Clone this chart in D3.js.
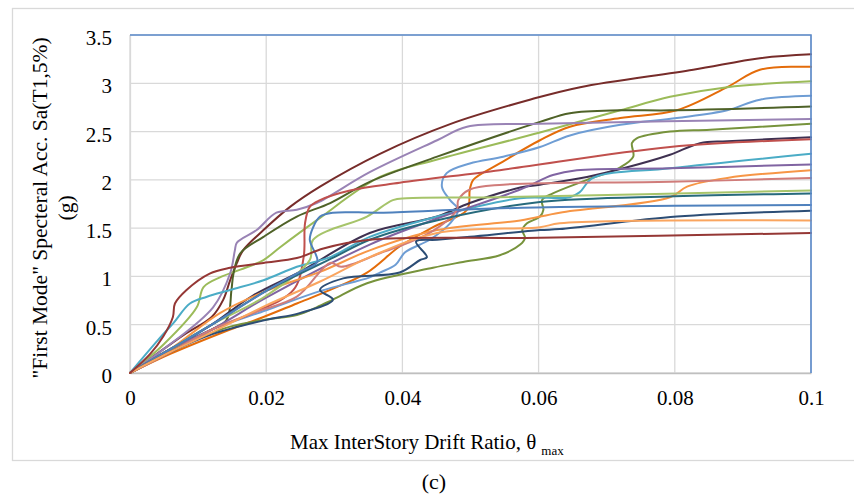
<!DOCTYPE html>
<html>
<head>
<meta charset="utf-8">
<script src="https://cdn.jsdelivr.net/npm/d3@7/dist/d3.min.js"></script>
<style>
  html, body { margin: 0; padding: 0; background: #ffffff; }
  svg { display: block; }
  text { font-family: "Liberation Serif", "Times New Roman", serif; fill: #000; }
</style>
</head>
<body>
<svg id="chart" width="854" height="497"></svg>
<script>
// ---------------- DATA ----------------
const xTickValues = [0, 0.02, 0.04, 0.06, 0.08, 0.1];
const xTickLabels = ["0", "0.02", "0.04", "0.06", "0.08", "0.1"];
const yTickValues = [0, 0.5, 1, 1.5, 2, 2.5, 3, 3.5];
const yTickLabels = ["0", "0.5", "1", "1.5", "2", "2.5", "3", "3.5"];

const seriesNames = ["GM1","GM2","GM3","GM4","GM5","GM6","GM7","GM8","GM9","GM10",
                     "GM11","GM12","GM13","GM14","GM15","GM16","GM17","GM18","GM19"];
const seriesColors = ["#772C2A","#E46C0A","#9BBB59","#6E9DD4","#4F6228","#9983B5","#77933C",
                      "#3F3151","#C0504D","#4BACC6","#8064A2","#F79646","#D07C7A","#A6C46A",
                      "#276A7C","#4F81BD","#2C4D75","#FAA55F","#953735"];

// max interstory drift ratio of each IDA curve
const driftValues = [
  [0, 0.004, 0.008, 0.012, 0.0137, 0.0147, 0.0157, 0.0166, 0.0196, 0.0235, 0.0279, 0.0367, 0.0471, 0.0587, 0.0661, 0.0827, 0.0925, 0.1],
  [0, 0.006, 0.0147, 0.0196, 0.0245, 0.0294, 0.0348, 0.0396, 0.0445, 0.0495, 0.0499, 0.0504, 0.0543, 0.0602, 0.0646, 0.072, 0.0803, 0.0877, 0.0925, 0.1],
  [0, 0.005, 0.0098, 0.0108, 0.0132, 0.0162, 0.0196, 0.022, 0.0274, 0.0367, 0.0451, 0.0602, 0.072, 0.0793, 0.0877, 0.1],
  [0, 0.006, 0.012, 0.02, 0.028, 0.0352, 0.0367, 0.039, 0.0404, 0.044, 0.047, 0.0482, 0.047, 0.0458, 0.0465, 0.0499, 0.0548, 0.0602, 0.0646, 0.072, 0.0803, 0.0877, 0.0925, 0.1],
  [0, 0.006, 0.012, 0.0142, 0.0149, 0.0152, 0.0162, 0.0196, 0.0245, 0.0294, 0.0352, 0.0451, 0.0602, 0.0646, 0.072, 0.0793, 0.1],
  [0, 0.005, 0.0122, 0.0147, 0.0154, 0.0157, 0.0186, 0.0215, 0.0245, 0.0274, 0.0352, 0.0451, 0.0495, 0.0602, 0.1],
  [0, 0.008, 0.0147, 0.0196, 0.0245, 0.0274, 0.0298, 0.0348, 0.0445, 0.0489, 0.0543, 0.0573, 0.058, 0.0576, 0.0583, 0.0602, 0.0607, 0.0605, 0.0621, 0.0671, 0.072, 0.0739, 0.0737, 0.0744, 0.0793, 0.0852, 0.1],
  [0, 0.006, 0.012, 0.018, 0.025, 0.0352, 0.0451, 0.0499, 0.0573, 0.0602, 0.0671, 0.073, 0.0793, 0.0837, 0.0877, 0.1],
  [0, 0.006, 0.012, 0.018, 0.024, 0.0255, 0.0257, 0.0264, 0.0279, 0.0323, 0.0396, 0.0543, 0.0793, 0.1],
  [0, 0.0041, 0.0064, 0.0088, 0.0113, 0.0147, 0.0196, 0.0245, 0.0294, 0.0352, 0.0451, 0.0573, 0.0646, 0.066, 0.068, 0.0793, 0.1],
  [0, 0.006, 0.012, 0.02, 0.0352, 0.0451, 0.0573, 0.0621, 0.0656, 0.0793, 0.1],
  [0, 0.006, 0.0132, 0.02, 0.028, 0.0352, 0.0451, 0.0573, 0.0631, 0.0793, 0.0818, 0.0877, 0.1],
  [0, 0.006, 0.012, 0.018, 0.0245, 0.0294, 0.031, 0.0367, 0.044, 0.048, 0.0482, 0.0499, 0.0548, 0.0793, 0.1],
  [0, 0.006, 0.012, 0.02, 0.0264, 0.0269, 0.0348, 0.0386, 0.0406, 0.0543, 0.1],
  [0, 0.006, 0.012, 0.02, 0.03, 0.0352, 0.045, 0.0602, 0.08, 0.1],
  [0, 0.006, 0.012, 0.02, 0.025, 0.0275, 0.0264, 0.0269, 0.0279, 0.0298, 0.0367, 0.048, 0.0631, 0.1],
  [0, 0.006, 0.012, 0.02, 0.0249, 0.0298, 0.0279, 0.0313, 0.0396, 0.0426, 0.0436, 0.042, 0.0451, 0.0499, 0.0602, 0.0631, 0.0803, 0.1],
  [0, 0.006, 0.012, 0.02, 0.028, 0.0352, 0.0451, 0.0602, 0.0631, 0.1],
  [0, 0.003, 0.0049, 0.0063, 0.0066, 0.0083, 0.0117, 0.0147, 0.0196, 0.0245, 0.0284, 0.0352, 0.0602, 0.1]
];

// "first mode" spectral acceleration Sa(T1,5%) in g of each IDA curve
const saValues = [
  [0, 0.2, 0.4, 0.58, 0.76, 0.96, 1.14, 1.27, 1.48, 1.72, 1.93, 2.27, 2.58, 2.83, 2.96, 3.14, 3.26, 3.30],
  [0, 0.2, 0.45, 0.58, 0.72, 0.86, 1.04, 1.31, 1.51, 1.69, 1.90, 2.0, 2.17, 2.41, 2.55, 2.64, 2.72, 2.96, 3.14, 3.17],
  [0, 0.3, 0.68, 0.89, 0.99, 1.07, 1.17, 1.30, 1.58, 2.03, 2.21, 2.49, 2.72, 2.86, 2.96, 3.02],
  [0, 0.25, 0.45, 0.65, 0.85, 0.99, 1.04, 1.12, 1.25, 1.38, 1.55, 1.69, 1.79, 1.93, 2.07, 2.17, 2.24, 2.34, 2.46, 2.57, 2.64, 2.72, 2.83, 2.87],
  [0, 0.25, 0.45, 0.55, 0.86, 1.03, 1.24, 1.41, 1.62, 1.76, 1.98, 2.24, 2.6, 2.69, 2.72, 2.72, 2.76],
  [0, 0.25, 0.68, 1.03, 1.27, 1.35, 1.48, 1.66, 1.69, 1.76, 2.08, 2.41, 2.55, 2.58, 2.63],
  [0, 0.3, 0.48, 0.55, 0.60, 0.68, 0.76, 0.93, 1.09, 1.15, 1.22, 1.33, 1.40, 1.48, 1.55, 1.62, 1.69, 1.79, 1.86, 2.0, 2.13, 2.24, 2.38, 2.43, 2.50, 2.52, 2.58],
  [0, 0.25, 0.5, 0.8, 1.05, 1.45, 1.62, 1.76, 1.92, 1.95, 2.03, 2.13, 2.26, 2.38, 2.40, 2.44],
  [0, 0.22, 0.45, 0.62, 0.86, 1.20, 1.55, 1.72, 1.79, 1.89, 1.97, 2.10, 2.34, 2.42],
  [0, 0.34, 0.52, 0.72, 0.79, 0.86, 0.96, 1.10, 1.20, 1.41, 1.62, 1.81, 1.82, 1.87, 2.02, 2.12, 2.27],
  [0, 0.25, 0.45, 0.78, 1.33, 1.6, 1.9, 2.05, 2.10, 2.12, 2.16],
  [0, 0.25, 0.62, 0.85, 1.05, 1.27, 1.48, 1.58, 1.66, 1.82, 1.93, 2.02, 2.10],
  [0, 0.22, 0.45, 0.62, 0.79, 1.14, 1.1, 1.24, 1.45, 1.69, 1.79, 1.90, 1.95, 1.98, 2.02],
  [0, 0.25, 0.5, 0.8, 1.17, 1.38, 1.62, 1.79, 1.81, 1.82, 1.89],
  [0, 0.25, 0.5, 0.85, 1.2, 1.38, 1.58, 1.77, 1.83, 1.86],
  [0, 0.25, 0.5, 0.85, 1.05, 1.15, 1.38, 1.51, 1.62, 1.66, 1.66, 1.69, 1.72, 1.74],
  [0, 0.22, 0.4, 0.55, 0.62, 0.76, 0.86, 0.98, 1.04, 1.17, 1.20, 1.36, 1.38, 1.41, 1.48, 1.49, 1.62, 1.68],
  [0, 0.22, 0.42, 0.7, 0.95, 1.20, 1.45, 1.51, 1.55, 1.58],
  [0, 0.2, 0.38, 0.58, 0.72, 0.86, 1.03, 1.09, 1.14, 1.19, 1.29, 1.38, 1.40, 1.45]
];

// blue frame series (top and right edge of plot)
const frameDrift = [0, 0.1, 0.1];
const frameSa = [3.5, 3.5, 0];

// ---------------- CHART ----------------
const svg = d3.select("#chart");
const W = 854, H = 497;
const plot = { left: 130, right: 811, top: 35, bottom: 373 };

svg.append("rect").attr("x", 0).attr("y", 0).attr("width", W).attr("height", H).attr("fill", "#fff");
// chart area border
svg.append("rect").attr("x", 12.5).attr("y", 8.5).attr("width", 850).attr("height", 452)
  .attr("fill", "none").attr("stroke", "#d9d9d9").attr("stroke-width", 1.3);

const x = d3.scaleLinear().domain([0, 0.1]).range([plot.left, plot.right]);
const y = d3.scaleLinear().domain([0, 3.5]).range([plot.bottom, plot.top]);

// gridlines
const grid = svg.append("g");
grid.selectAll("line.h").data(yTickValues).enter().append("line")
  .attr("x1", plot.left).attr("x2", plot.right)
  .attr("y1", d => y(d)).attr("y2", d => y(d))
  .attr("stroke", "#d9d9d9").attr("stroke-width", 1.3);
grid.selectAll("line.v").data(xTickValues).enter().append("line")
  .attr("y1", plot.top).attr("y2", plot.bottom)
  .attr("x1", d => x(d)).attr("x2", d => x(d))
  .attr("stroke", "#d9d9d9").attr("stroke-width", 1.3);

// axes
const xAxis = d3.axisBottom(x).tickValues(xTickValues)
  .tickFormat((d, i) => xTickLabels[i]).tickSize(0).tickPadding(17);
const gx = svg.append("g").attr("transform", `translate(0,${plot.bottom})`).call(xAxis);
gx.select(".domain").attr("stroke", "#bfbfbf").attr("stroke-width", 1.5);
gx.selectAll("text").style("font-family", "'Liberation Serif', serif").style("font-size", "21px").attr("fill", "#000");

const yAxis = d3.axisLeft(y).tickValues(yTickValues)
  .tickFormat((d, i) => yTickLabels[i]).tickSize(0).tickPadding(18);
const gy = svg.append("g").attr("transform", `translate(${plot.left},0)`).call(yAxis);
gy.select(".domain").attr("stroke", "#d9d9d9").attr("stroke-width", 1.3);
gy.selectAll("text").style("font-family", "'Liberation Serif', serif").style("font-size", "21px")
  .attr("dy", "0.45em").attr("fill", "#000");

// curves
const line = d3.line()
  .x(d => x(d[0])).y(d => y(d[1]))
  .curve(d3.curveCatmullRom.alpha(0.5));

const curves = svg.append("g");
seriesNames.forEach((name, i) => {
  const pts = driftValues[i].map((dv, j) => [dv, saValues[i][j]]);
  curves.append("path").datum(pts)
    .attr("d", line)
    .attr("fill", "none")
    .attr("stroke", seriesColors[i])
    .attr("stroke-width", 2)
    .attr("stroke-linejoin", "round")
    .attr("stroke-linecap", "round");
});

// blue frame series
svg.append("path").datum(frameDrift.map((d, i) => [d, frameSa[i]]))
  .attr("d", d3.line().x(d => x(d[0])).y(d => y(d[1])))
  .attr("fill", "none").attr("stroke", "#5B8ACB").attr("stroke-width", 1.6);

// y title
const yTitle = svg.append("g").attr("transform", "translate(0,208) rotate(-90)");
yTitle.append("text").attr("x", 0).attr("y", 47).attr("text-anchor", "middle")
  .style("font-size", "21.5px").text('"First Mode" Specteral Acc. Sa(T1,5%)');
yTitle.append("text").attr("x", 0).attr("y", 73).attr("text-anchor", "middle")
  .style("font-size", "21.5px").text("(g)");

// x title
const xt = svg.append("text").attr("x", 290).attr("y", 449).style("font-size", "21px");
xt.append("tspan").text("Max InterStory Drift Ratio, θ");
xt.append("tspan").attr("dx", 5).attr("dy", 6).style("font-size", "13px").text("max");

// caption
svg.append("text").attr("x", 434).attr("y", 489).attr("text-anchor", "middle")
  .style("font-size", "22px").text("(c)");
</script>
</body>
</html>
